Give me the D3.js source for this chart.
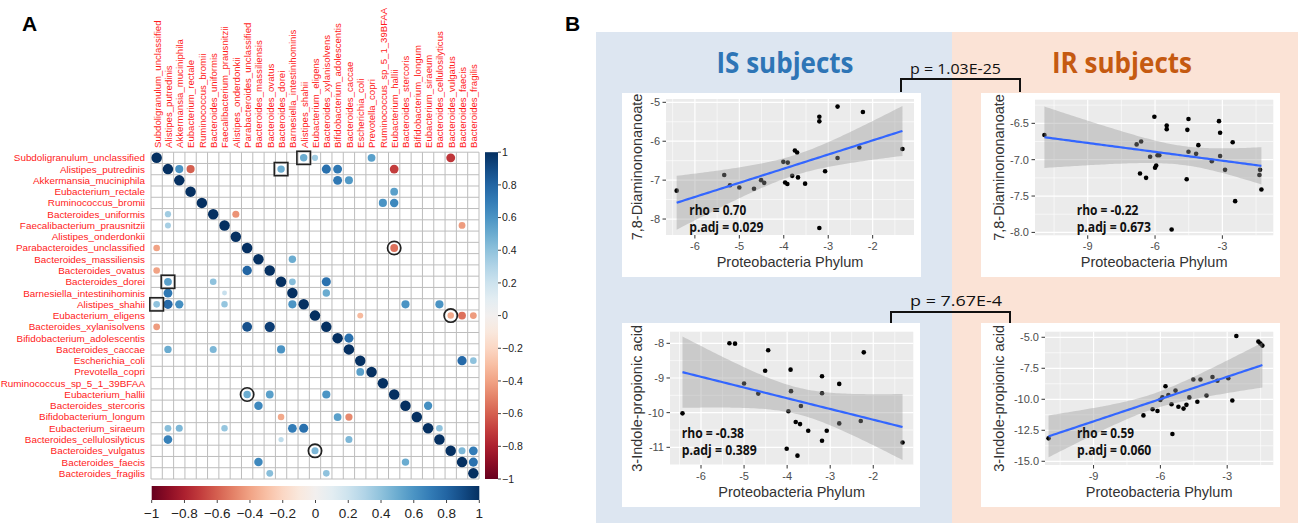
<!DOCTYPE html>
<html><head><meta charset="utf-8">
<script src="https://cdn.jsdelivr.net/npm/d3@7"></script>
<style>body{margin:0;background:#fff}svg{display:block}</style>
</head><body><svg id="c" width="1298" height="523"></svg>
<script>
// ---------------- DATA ----------------
const taxa = ["Subdoligranulum_unclassified","Alistipes_putredinis","Akkermansia_muciniphila","Eubacterium_rectale","Ruminococcus_bromii","Bacteroides_uniformis","Faecalibacterium_prausnitzii","Alistipes_onderdonkii","Parabacteroides_unclassified","Bacteroides_massiliensis","Bacteroides_ovatus","Bacteroides_dorei","Barnesiella_intestinihominis","Alistipes_shahii","Eubacterium_eligens","Bacteroides_xylanisolvens","Bifidobacterium_adolescentis","Bacteroides_caccae","Escherichia_coli","Prevotella_copri","Ruminococcus_sp_5_1_39BFAA","Eubacterium_hallii","Bacteroides_stercoris","Bifidobacterium_longum","Eubacterium_siraeum","Bacteroides_cellulosilyticus","Bacteroides_vulgatus","Bacteroides_faecis","Bacteroides_fragilis"];
// [row, col, rho] for significant off-diagonal cells
const corrValues = [
 [0,13,0.5],[0,14,0.35],[0,19,0.55],[0,26,-0.72],
 [1,2,0.6],[1,3,-0.6],[1,11,0.5],[1,15,0.75],[1,16,0.72],[1,21,-0.7],
 [2,16,0.72],[2,17,0.58],
 [3,21,0.55],
 [4,20,0.6],[4,21,0.65],
 [5,1,0.35],[5,7,-0.45],
 [6,1,0.33],[6,27,-0.42],
 [8,0,-0.4],[8,21,-0.55],
 [9,12,0.5],
 [10,0,-0.4],[10,8,0.8],
 [11,1,0.55],[11,5,0.4],[11,12,0.42],[11,15,0.75],
 [12,1,0.72],[12,6,0.22],[12,15,0.5],
 [13,0,0.4],[13,1,0.78],[13,2,0.62],[13,6,0.38],[13,12,0.6],[13,22,0.6],[13,25,0.6],
 [14,18,-0.32],[14,26,-0.38],[14,27,-0.55],[14,28,-0.42],
 [15,0,-0.42],[15,8,0.88],[15,10,0.95],
 [16,17,0.75],
 [17,1,0.5],[17,5,0.45],[17,11,0.6],
 [18,27,0.78],[18,28,0.4],
 [19,18,0.55],
 [21,8,0.5],[21,10,0.55],[21,15,0.6],
 [22,9,0.65],[22,24,0.62],
 [23,11,-0.38],[23,16,0.55],[23,17,-0.48],
 [24,1,0.42],[24,2,0.45],[24,6,0.38],[24,12,0.7],[24,13,0.75],[24,25,0.4],
 [25,1,0.68],[25,11,0.25],[25,17,0.45],
 [26,14,0.45],[26,27,0.45],[26,28,0.7],
 [27,9,0.65],[27,22,0.5],[27,28,0.75],
 [28,10,0.42],[28,15,0.4]
];
const boxedCells = [[0,13],[1,11],[11,1],[13,0]];
const ringedCells = [[8,21],[14,26],[21,8],[26,14]];
const colorbarTicks = [-1,-0.8,-0.6,-0.4,-0.2,0,0.2,0.4,0.6,0.8,1];

// Panel B scatter data (Proteobacteria phylum vs metabolite)
const isDiamX = [-6.41,-5.34,-5.21,-5.0,-4.67,-4.51,-4.44,-4.01,-3.91,-3.97,-3.92,-3.81,-3.75,-3.70,-3.68,-3.52,-3.20,-3.20,-3.20,-3.07,-2.79,-2.79,-2.30,-2.22,-1.33];
const isDiamY = [-7.27,-6.87,-7.13,-7.19,-7.22,-7.0,-7.07,-6.53,-6.55,-7.06,-7.10,-6.89,-6.24,-6.29,-6.93,-7.09,-5.37,-5.49,-8.23,-6.77,-5.11,-6.43,-6.16,-5.25,-6.20];
const irDiamX = [-10.93,-6.82,-6.62,-6.03,-6.22,-6.67,-6.40,-6.0,-5.95,-5.89,-5.81,-5.48,-5.48,-4.51,-4.56,-4.51,-4.59,-4.17,-4.07,-3.47,-3.15,-3.10,-3.10,-2.88,-2.54,-2.43,-1.35,-1.32,-1.26,-5.26];
const irDiamY = [-6.66,-6.79,-6.75,-6.41,-6.96,-7.19,-7.25,-7.11,-7.08,-6.94,-6.94,-6.53,-6.58,-6.44,-6.59,-6.89,-7.27,-6.92,-6.80,-7.02,-6.47,-6.63,-6.95,-7.14,-6.76,-7.57,-7.21,-7.14,-7.41,-7.96];
const isIpaX = [-6.43,-5.34,-5.21,-5.0,-4.67,-4.51,-4.44,-3.97,-4.01,-3.92,-3.91,-3.80,-3.76,-3.70,-3.68,-3.51,-3.19,-3.19,-3.19,-3.08,-2.79,-2.79,-2.29,-2.22,-1.32];
const isIpaY = [-10.02,-8.0,-8.01,-9.16,-9.45,-8.79,-8.20,-9.96,-11.04,-8.76,-9.38,-10.27,-11.24,-10.33,-9.81,-10.52,-8.95,-9.44,-10.81,-10.52,-9.17,-10.31,-10.24,-8.26,-10.86];
const irIpaX = [-11.02,-6.76,-6.35,-6.13,-6.0,-5.91,-5.77,-5.64,-5.50,-5.32,-5.19,-4.96,-4.83,-4.70,-4.52,-4.34,-4.20,-3.93,-3.66,-3.44,-2.95,-2.77,-2.59,-1.60,-1.51,-1.42,-5.46];
const irIpaY = [-13.15,-11.3,-10.8,-10.95,-10.05,-9.85,-8.95,-9.65,-10.4,-9.3,-10.6,-10.75,-10.45,-9.85,-8.4,-10.2,-8.4,-9.7,-8.2,-8.5,-8.3,-10.1,-4.9,-5.35,-5.51,-5.67,-12.8];
// IR 3-IPA smooth: line ends and band half-widths (ends / narrowest)
const irIpaFitX = [-11.02,-1.42];
const irIpaFitY = [-12.99,-7.24];
const irIpaBandHalf = [1.69,0.62,1.81];   // left, narrowest, right

// ---------------- DRAW ----------------
const svg = d3.select("#c");
svg.append("rect").attr("width",1298).attr("height",523).attr("fill","#fff");

// ===== Panel A : correlation matrix =====
const idx = d3.range(taxa.length);
const xb = d3.scaleBand().domain(idx).range([151, 479]);
const yb = d3.scaleBand().domain(idx).range([152.2, 479]);
const col = v => d3.interpolateRdBu((v + 1) / 2);
const rad = d3.scaleSqrt().domain([0,1]).range([0,5.25]);
const A = svg.append("g");

A.append("text").attr("x",22).attr("y",31).attr("font-family","Liberation Sans, Arial, sans-serif")
 .attr("font-weight","bold").attr("font-size",21).text("A");

const grid = A.append("g").attr("stroke","#bdbdbd").attr("stroke-width",1);
d3.range(taxa.length+1).forEach(i=>{
  const xx = 151 + i*xb.step(), yy = 152.2 + i*yb.step();
  grid.append("line").attr("x1",xx).attr("x2",xx).attr("y1",152.2).attr("y2",479);
  grid.append("line").attr("y1",yy).attr("y2",yy).attr("x1",151).attr("x2",479);
});

const cells = idx.map(i=>[i,i,1]).concat(corrValues);
A.append("g").selectAll("circle").data(cells).join("circle")
 .attr("cx",d=>xb(d[1])+xb.bandwidth()/2).attr("cy",d=>yb(d[0])+yb.bandwidth()/2)
 .attr("r",d=>rad(Math.abs(d[2]))).attr("fill",d=>col(d[2]));

A.append("g").selectAll("rect").data(boxedCells).join("rect")
 .attr("x",d=>xb(d[1])+xb.bandwidth()/2-6.8).attr("y",d=>yb(d[0])+yb.bandwidth()/2-6.6)
 .attr("width",13.6).attr("height",13.2).attr("fill","none").attr("stroke","#222").attr("stroke-width",1.6);
A.append("g").selectAll("circle").data(ringedCells).join("circle")
 .attr("cx",d=>xb(d[1])+xb.bandwidth()/2).attr("cy",d=>yb(d[0])+yb.bandwidth()/2)
 .attr("r",6.7).attr("fill","none").attr("stroke","#222").attr("stroke-width",1.6);

A.append("g").selectAll("text").data(taxa).join("text")
 .attr("x",145).attr("y",(d,i)=>yb(i)+yb.bandwidth()/2).attr("dy","0.35em")
 .attr("text-anchor","end").attr("fill","#ff1a1a").attr("font-size",9.9)
 .attr("font-family","Liberation Sans, Arial, sans-serif").text(d=>d);
A.append("g").selectAll("text").data(taxa).join("text")
 .attr("transform",(d,i)=>`translate(${xb(i)+xb.bandwidth()/2+0.5},148) rotate(-90)`).attr("dy","0.35em")
 .attr("text-anchor","start").attr("fill","#ff1a1a").attr("font-size",9.6)
 .attr("font-family","Liberation Sans, Arial, sans-serif").text(d=>d);

const defs = svg.append("defs");
function grad(id, x1,y1,x2,y2){
  const g = defs.append("linearGradient").attr("id",id).attr("x1",x1).attr("y1",y1).attr("x2",x2).attr("y2",y2);
  d3.range(0,1.0001,0.05).forEach(t=>g.append("stop").attr("offset",t).attr("stop-color",d3.interpolateRdBu(t)));
}
grad("gh","0","0","1","0");
grad("gv","0","1","0","0");
const cbV = d3.scaleLinear().domain([-1,1]).range([479,152.2]);
A.append("rect").attr("x",485).attr("y",152.2).attr("width",13).attr("height",479-152.2).attr("fill","url(#gv)");
const fmt = v => (v<0?"\u2212":"") + (Math.abs(v)===1?"1":(Math.abs(v)===0?"0":d3.format(".1f")(Math.abs(v))));
colorbarTicks.forEach(v=>{
  A.append("line").attr("x1",498).attr("x2",501).attr("y1",cbV(v)).attr("y2",cbV(v)).attr("stroke","#444");
  A.append("text").attr("x",502).attr("y",cbV(v)).attr("dy","0.35em").attr("font-size",10.5)
   .attr("font-family","Liberation Sans, Arial, sans-serif").attr("fill","#222").text(fmt(v));
});
const cbH = d3.scaleLinear().domain([-1,1]).range([151.7,479.3]);
A.append("rect").attr("x",151.7).attr("y",486).attr("width",479.3-151.7).attr("height",14).attr("fill","url(#gh)");
colorbarTicks.forEach(v=>{
  A.append("line").attr("y1",500).attr("y2",503).attr("x1",cbH(v)).attr("x2",cbH(v)).attr("stroke","#444");
  A.append("text").attr("x",cbH(v)).attr("y",518).attr("text-anchor","middle").attr("font-size",13.5)
   .attr("font-family","Liberation Sans, Arial, sans-serif").attr("fill","#222").text(fmt(v));
});

// ===== Panel B =====
const B = svg.append("g");
B.append("text").attr("x",565).attr("y",31).attr("font-family","Liberation Sans, Arial, sans-serif")
 .attr("font-weight","bold").attr("font-size",21).text("B");
B.append("rect").attr("x",596).attr("y",32).attr("width",356).attr("height",491).attr("fill","#dde6f1");
B.append("rect").attr("x",952).attr("y",32).attr("width",346).attr("height",491).attr("fill","#fbe3d6");

function fitText(sel, w){ return sel.attr("textLength",w).attr("lengthAdjust","spacingAndGlyphs"); }
const cal = "Open Sans, Noto Sans, sans-serif";
fitText(B.append("text").attr("x",716.5).attr("y",73).attr("font-family",cal).attr("font-weight","bold")
 .attr("font-size",28).attr("fill","#2e75b6").text("IS subjects"),137);
fitText(B.append("text").attr("x",1052).attr("y",73).attr("font-family",cal).attr("font-weight","bold")
 .attr("font-size",28).attr("fill","#c55a11").text("IR subjects"),140);

function bracket(x1,x2,yTop,yBot,label,tx,ty,tw){
  B.append("path").attr("d",`M${x1},${yBot}V${yTop}H${x2}V${yBot}`).attr("fill","none").attr("stroke","#111").attr("stroke-width",2);
  fitText(B.append("text").attr("x",tx).attr("y",ty).attr("font-family",cal).attr("font-size",15).attr("fill","#111").text(label),tw);
}
bracket(901,1020,79,92,"p = 1.03E-25",910,74,91);
bracket(891,1010,312,324,"p =  7.67E-4",910,306,92);

function lm(xs, ys){
  const n = xs.length, mx = d3.mean(xs), my = d3.mean(ys);
  let sxx=0, sxy=0; xs.forEach((x,i)=>{sxx+=(x-mx)*(x-mx); sxy+=(x-mx)*(ys[i]-my);});
  const b = sxy/sxx, a = my - b*mx;
  let sse=0; xs.forEach((x,i)=>{const r=ys[i]-(a+b*x); sse+=r*r;});
  const df = n-2, s = Math.sqrt(sse/df), t = 1.96 + 2.5/df;
  const [lo,hi] = d3.extent(xs);
  return d3.range(0,81).map(k=>{
    const x = lo + (hi-lo)*k/80, yh = a+b*x, se = s*Math.sqrt(1/n + (x-mx)*(x-mx)/sxx);
    return {x, y:yh, lo:yh-t*se, hi:yh+t*se};
  });
}
// smooth band built from values (line ends + half-widths)
function readFit(fx, fy, hw){
  const [xl,xr] = fx, [yl,yr] = fy, [hl,h0,hr] = hw;
  const ratio = Math.sqrt((hr*hr-h0*h0)/(hl*hl-h0*h0));
  const xm = (xr + ratio*xl)/(1+ratio);
  const k = (hl*hl-h0*h0)/((xl-xm)*(xl-xm));
  return d3.range(0,81).map(j=>{
    const x = xl + (xr-xl)*j/80, y = yl + (yr-yl)*(x-xl)/(xr-xl), h = Math.sqrt(h0*h0 + k*(x-xm)*(x-xm));
    return {x, y, lo:y-h, hi:y+h};
  });
}

function scatter(c){
  const g = B.append("g");
  g.append("rect").attr("x",c.box[0]).attr("y",c.box[1]).attr("width",c.box[2]-c.box[0]).attr("height",c.box[3]-c.box[1]).attr("fill","#fff");
  const [px0,py0,px1,py1] = c.panel;
  const x = d3.scaleLinear().domain(c.xDomain).range([px0,px1]);
  const y = d3.scaleLinear().domain(c.yDomain).range([py1,py0]);
  g.append("rect").attr("x",px0).attr("y",py0).attr("width",px1-px0).attr("height",py1-py0).attr("fill","#ebebeb");
  const gl = g.append("g").attr("stroke","#fff");
  c.xMinor.forEach(v=>gl.append("line").attr("x1",x(v)).attr("x2",x(v)).attr("y1",py0).attr("y2",py1).attr("stroke-width",0.6));
  c.yMinor.forEach(v=>gl.append("line").attr("y1",y(v)).attr("y2",y(v)).attr("x1",px0).attr("x2",px1).attr("stroke-width",0.6));
  c.xTicks.forEach(v=>gl.append("line").attr("x1",x(v)).attr("x2",x(v)).attr("y1",py0).attr("y2",py1).attr("stroke-width",1.2));
  c.yTicks.forEach(v=>gl.append("line").attr("y1",y(v)).attr("y2",y(v)).attr("x1",px0).attr("x2",px1).attr("stroke-width",1.2));
  const f = "Liberation Sans, Arial, sans-serif";
  c.xTicks.forEach(v=>{
    g.append("line").attr("x1",x(v)).attr("x2",x(v)).attr("y1",py1).attr("y2",py1+3.5).attr("stroke","#333");
    g.append("text").attr("x",x(v)).attr("y",py1+15).attr("text-anchor","middle").attr("font-family",f).attr("font-size",11).attr("fill","#4d4d4d").text(c.fmtX(v));
  });
  c.yTicks.forEach(v=>{
    g.append("line").attr("x1",px0-3.5).attr("x2",px0).attr("y1",y(v)).attr("y2",y(v)).attr("stroke","#333");
    g.append("text").attr("x",px0-6).attr("y",y(v)).attr("dy","0.35em").attr("text-anchor","end").attr("font-family",f).attr("font-size",11).attr("fill","#4d4d4d").text(c.fmtY(v));
  });
  g.append("text").attr("x",(px0+px1)/2).attr("y",c.xTitleY).attr("text-anchor","middle").attr("font-family",f).attr("font-size",14.5).attr("fill","#333").text("Proteobacteria Phylum");
  g.append("text").attr("transform",`translate(${c.yTitleX},${(py0+py1)/2}) rotate(-90)`).attr("dy","0.35em").attr("text-anchor","middle").attr("font-family",f).attr("font-size",14.5).attr("fill","#333").text(c.yTitle);
  const cid = "clip"+Math.round(px0)+Math.round(py0);
  defs.append("clipPath").attr("id",cid).append("rect").attr("x",px0).attr("y",py0).attr("width",px1-px0).attr("height",py1-py0);
  g.append("g").selectAll("circle").data(c.xs.map((v,i)=>[v,c.ys[i]])).join("circle")
   .attr("cx",d=>x(d[0])).attr("cy",d=>y(d[1])).attr("r",2.3).attr("fill","#000");
  const fit = c.fit || lm(c.xs,c.ys);
  const sg = g.append("g").attr("clip-path",`url(#${cid})`);
  sg.append("path").datum(fit).attr("d",d3.area().x(d=>x(d.x)).y0(d=>y(d.lo)).y1(d=>y(d.hi))).attr("fill","#999").attr("fill-opacity",0.4);
  sg.append("path").datum(fit).attr("d",d3.line().x(d=>x(d.x)).y(d=>y(d.y))).attr("fill","none").attr("stroke","#3366ff").attr("stroke-width",2.2);
  fitText(g.append("text").attr("x",c.stat[0]).attr("y",c.stat[1]).attr("font-family",cal).attr("font-weight","bold").attr("font-size",13.5).attr("fill","#111").text(c.rho),c.statW[0]);
  fitText(g.append("text").attr("x",c.stat[0]).attr("y",c.stat[1]+16.7).attr("font-family",cal).attr("font-weight","bold").attr("font-size",13.5).attr("fill","#111").text(c.padj),c.statW[1]);
}
const f0 = d3.format("d"), f1 = d3.format(".1f");
const hy = s => s.replace("\u2212","-");
scatter({box:[622,93,921,277],panel:[666,99,914,235],xDomain:[-6.65,-1.07],yDomain:[-8.41,-4.915],
  xTicks:[-6,-5,-4,-3,-2],xMinor:[-6.5,-5.5,-4.5,-3.5,-2.5,-1.5],yTicks:[-5,-6,-7,-8],yMinor:[-5.5,-6.5,-7.5],
  fmtX:v=>hy(f0(v)),fmtY:v=>hy(f0(v)),xTitleY:266.7,yTitleX:637,yTitle:"7,8-Diaminononanoate",
  xs:isDiamX,ys:isDiamY,rho:"rho = 0.70",padj:"p.adj = 0.029",stat:[689.3,215],statW:[57,74]});
scatter({box:[981,93,1280,277],panel:[1035,99.7,1273.3,235.3],xDomain:[-11.35,-0.73],yDomain:[-8.04,-6.175],
  xTicks:[-9,-6,-3],xMinor:[-10.5,-7.5,-4.5,-1.5],yTicks:[-6.5,-7,-7.5,-8],yMinor:[-6.25,-6.75,-7.25,-7.75],
  fmtX:v=>hy(f0(v)),fmtY:v=>hy(f1(v)),xTitleY:266.7,yTitleX:998.5,yTitle:"7,8-Diaminononanoate",
  xs:irDiamX,ys:irDiamY,rho:"rho = -0.22",padj:"p.adj = 0.673",stat:[1076.7,215],statW:[61.7,74.3]});
scatter({box:[622,323,920,507],panel:[670,331.7,913.3,465],xDomain:[-6.72,-1.07],yDomain:[-11.51,-7.665],
  xTicks:[-6,-5,-4,-3,-2],xMinor:[-6.5,-5.5,-4.5,-3.5,-2.5,-1.5],yTicks:[-8,-9,-10,-11],yMinor:[-8.5,-9.5,-10.5,-11.5],
  fmtX:v=>hy(f0(v)),fmtY:v=>hy(f0(v)),xTitleY:496.7,yTitleX:637,yTitle:"3-Indole-propionic acid",
  xs:isIpaX,ys:isIpaY,rho:"rho = -0.38",padj:"p.adj = 0.389",stat:[681.7,438.3],statW:[62.3,75]});
scatter({box:[981,323,1280,507],panel:[1045,331.7,1273.3,465],xDomain:[-11.18,-0.93],yDomain:[-15.3,-4.55],
  xTicks:[-9,-6,-3],xMinor:[-10.5,-7.5,-4.5,-1.5],yTicks:[-5,-7.5,-10,-12.5,-15],yMinor:[-6.25,-8.75,-11.25,-13.75],
  fmtX:v=>hy(f0(v)),fmtY:v=>hy(f1(v)),xTitleY:496.7,yTitleX:998.5,yTitle:"3-Indole-propionic acid",
  xs:irIpaX,ys:irIpaY,fit:readFit(irIpaFitX,irIpaFitY,irIpaBandHalf),
  rho:"rho = 0.59",padj:"p.adj = 0.060",stat:[1077,438.3],statW:[57,74.3]});
</script></body></html>
